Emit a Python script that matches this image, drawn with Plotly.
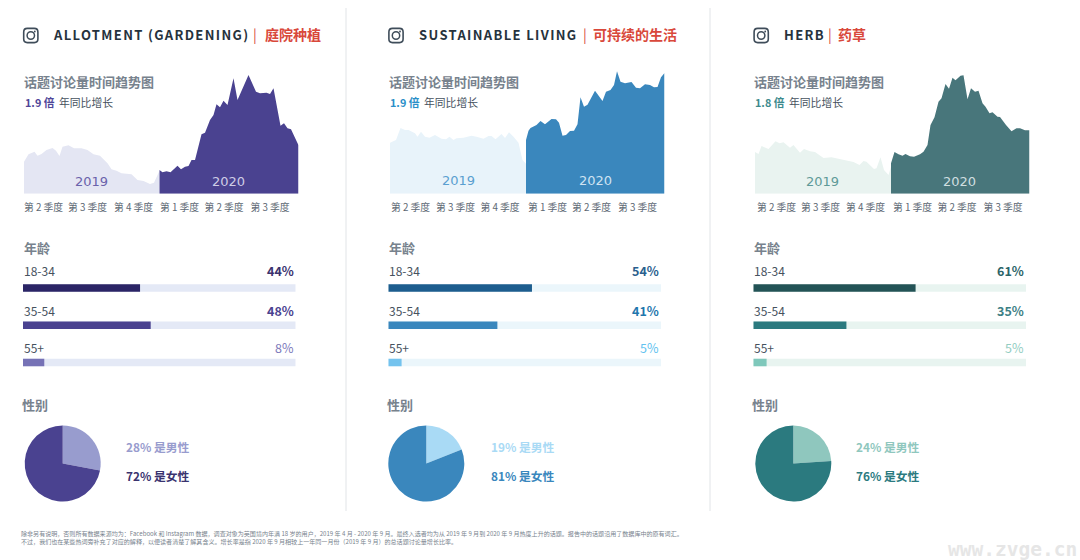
import plotly.graph_objects as go

# ---------- data ----------
topic_names = ["ALLOTMENT (GARDENING)", "SUSTAINABLE LIVING", "HERB"]
topic_names_cn = ["庭院种植", "可持续的生活", "药草"]
growth = ["1.9 倍", "1.9 倍", "1.8 倍"]
quarter_labels = ["第 2 季度", "第 3 季度", "第 4 季度", "第 1 季度", "第 2 季度", "第 3 季度"]
age_groups = ["18-34", "35-54", "55+"]
age_a = [44, 48, 8]
age_b = [54, 41, 5]
age_c = [61, 35, 5]
male_share = [28, 19, 24]
female_share = [72, 81, 76]

days_a19 = [0,9,21,27,35,45,57,64,71,77,89,100,115,127,139,152,167,175,185,195,215,227,239,252,260,271]
vals_a19 = [96,118,126,114,119,131,137,129,113,141,145,136,136,131,118,114,91,73,69,61,58,41,38,29,33,69]
days_a20 = [271,277,285,293,300,307,314,322,329,335,342,355,362,372,379,385,392,399,407,419,427,449,464,472,485,492,499,509,513,520,527,534,542,549]
vals_a20 = [71,64,67,64,74,84,73,81,83,101,101,178,183,221,236,268,259,279,266,346,281,356,306,301,303,299,316,231,204,211,196,193,166,145]

days_b19 = [0,12,21,30,37,50,55,62,70,79,90,103,112,119,127,133,147,163,173,187,197,203,211,223,230,238,247,257,265,272]
vals_b19 = [153,161,197,191,191,181,171,186,171,168,176,165,163,171,161,166,168,174,171,165,173,173,163,179,167,184,171,153,101,90]
days_b20 = [272,277,281,293,301,310,323,332,338,345,352,360,368,375,381,388,395,410,425,432,441,448,454,461,470,483,492,500,510,520,528,535,542,549]
vals_b20 = [161,189,197,206,218,208,224,223,213,174,176,188,189,208,289,261,267,309,278,306,311,326,367,336,331,335,318,316,328,326,319,320,349,362]

days_c19 = [0,7,13,27,41,49,57,70,77,90,98,110,120,137,153,170,183,197,209,217,223,238,243,251,258,267,272]
vals_c19 = [125,119,143,134,157,151,154,138,146,123,134,127,125,107,109,103,98,95,86,98,96,74,76,109,71,56,81]
days_c20 = [272,279,287,295,301,310,318,330,337,345,351,359,367,373,381,388,395,401,411,417,425,432,440,447,455,461,469,475,485,490,502,513,523,530,540,549]
vals_c20 = [91,125,118,114,119,112,111,118,126,146,206,229,276,286,329,315,348,340,354,355,283,316,306,309,271,261,241,244,231,230,206,187,196,196,190,190]

tick_days = [[39,127,219,311,400,492],[41,131,220,315,403,495],[43,131,221,315,404,496]]

footnote = ("除非另有说明，否则所有数据来源均为：Facebook 和 Instagram 数据，调查对象为英国境内年满 18 岁的用户，2019 年 4 月 - 2020 年 9 月。"
            "最终入选者均为从 2019 年 9 月到 2020 年 9 月热度上升的话题。报告中的话题沿用了数据库中的原有词汇。<br>"
            "不过，我们也在某些热词旁补充了对应的解释，以便读者清楚了解其含义。增长率是指 2020 年 9 月相较上一年同一月份（2019 年 9 月）的总话题讨论量增长比率。")

# ---------- style ----------
W, H = 1080, 560
CJK = "Noto Sans CJK SC"
INK = "#46525e"
GREY = "#77828d"
panels = [
    dict(area_x=24, bar_x=23, pie_x=62.7, icon_x=30.8, t_x=52, sep_x=252, cn_x=263.5,
         dark="#4a4290", light="#e4e6f3", bars=["#2b2566", "#4a4290", "#7672b6"], track="#e4e9f6",
         pct=["#3a336f", "#4a4290", "#7c78ba"], pie="#4a4290", pie_l="#989cce", grow="#4f4698",
         y19="#6a62ab", y20="#cfcde6", y19_h=37, y20_h=37, y19x=135, y20x=409,
         days19=days_a19, vals19=vals_a19, days20=days_a20, vals20=vals_a20, age=age_a),
    dict(area_x=390, bar_x=388.3, pie_x=426.3, icon_x=396, t_x=417.7, sep_x=581.5, cn_x=592.2,
         dark="#3a87bd", light="#e8f3fa", bars=["#1d5d8e", "#3a87bd", "#74c3ee"], track="#ebf6fb",
         pct=["#2a5f8e", "#1f77ad", "#62c2f0"], pie="#3a87bd", pie_l="#a9daf5", grow="#2b8fc8",
         y19="#5a9fd0", y20="#cfe3f2", y19_h=41, y20_h=41, y19x=136, y20x=410,
         days19=days_b19, vals19=vals_b19, days20=days_b20, vals20=vals_b20, age=age_b),
    dict(area_x=755, bar_x=753.3, pie_x=793.3, icon_x=761.2, t_x=782.7, sep_x=827, cn_x=837.5,
         dark="#48767b", light="#e9f3f0", bars=["#235356", "#2b7a7f", "#7fc8bb"], track="#e8f4f0",
         pct=["#2b6468", "#3d8085", "#93cdc2"], pie="#2b7a7f", pie_l="#8fc7be", grow="#3d8a8d",
         y19="#5f9a98", y20="#d0dfe0", y19_h=37, y20_h=37, y19x=135, y20x=409,
         days19=days_c19, vals19=vals_c19, days20=days_c20, vals20=vals_c20, age=age_c),
]

def X(p): return p / W
def Y(p): return 1 - p / H

fig = go.Figure()
ann, shapes = [], []

def text(x, y, s, size, color, anchor="left", weight=None, family=CJK, dy=-1.6):
    ann.append(dict(x=X(x), y=Y(y + dy), xref="paper", yref="paper", text=s, showarrow=False,
                    xanchor=anchor, yanchor="middle", align=anchor,
                    font=dict(family=family, size=size, color=color, weight=weight), borderpad=0))

def rounded_square(cx, cy, h, r):
    # outline worked out in pixels, then converted to paper fractions
    l, rt, t, b = cx - h, cx + h, cy - h, cy + h
    P = lambda px, py: f"{X(px)},{Y(py)}"
    return (f"M{P(l + r, t)} L{P(rt - r, t)} Q{P(rt, t)} {P(rt, t + r)} L{P(rt, b - r)} Q{P(rt, b)} {P(rt - r, b)} "
            f"L{P(l + r, b)} Q{P(l, b)} {P(l, b - r)} L{P(l, t + r)} Q{P(l, t)} {P(l + r, t)} Z")

layout_axes = {}
AREA_W, AREA_BASE, AREA_H = 274.5, 193.67, 125
BAR_W, BAR_TOP, BAR_BOT = 272.7, 269.5, 381

for i, p in enumerate(panels):
    n = i * 2 + 1
    suffix = "" if n == 1 else str(n)
    ax = f"x{suffix}", f"y{suffix}"
    for d, v, c in [(p["days19"], p["vals19"], p["light"]), (p["days20"], p["vals20"], p["dark"])]:
        fig.add_trace(go.Scatter(x=d, y=v, xaxis=ax[0], yaxis=ax[1], mode="lines", fill="tozeroy",
                                 fillcolor=c, line=dict(width=0, color=c), hoverinfo="skip"))
    layout_axes[f"xaxis{suffix}"] = dict(domain=[X(p["area_x"]), X(p["area_x"] + AREA_W)], range=[0, 549],
        anchor=ax[1], showgrid=False, zeroline=False, showline=False, tickmode="array",
        tickvals=tick_days[i], ticktext=quarter_labels, ticks="outside", ticklen=5, tickcolor="rgba(0,0,0,0)",
        tickfont=dict(family=CJK, size=9.8, color="#5d6873"))
    layout_axes[f"yaxis{suffix}"] = dict(domain=[Y(AREA_BASE), Y(AREA_BASE - AREA_H)], range=[0, 375],
        anchor=ax[0], visible=False)

    for yr, xx, hh, col in [("2019", p["y19x"], p["y19_h"], p["y19"]), ("2020", p["y20x"], p["y20_h"], p["y20"])]:
        ann.append(dict(x=xx, y=hh, xref=ax[0], yref=ax[1], text=yr, showarrow=False, xanchor="center",
                        yanchor="middle", font=dict(family="DejaVu Sans", size=13, color=col)))

    m = i * 2 + 2
    bx, by = f"x{m}", f"y{m}"
    fig.add_trace(go.Bar(x=[102.5] * 3, y=age_groups, orientation="h", xaxis=bx, yaxis=by,
                         marker=dict(color=p["track"], line_width=0), hoverinfo="skip"))
    fig.add_trace(go.Bar(x=p["age"], y=age_groups, orientation="h", xaxis=bx, yaxis=by,
                         marker=dict(color=p["bars"], line_width=0), hoverinfo="skip"))
    layout_axes[f"xaxis{m}"] = dict(domain=[X(p["bar_x"]), X(p["bar_x"] + BAR_W)], range=[0, 102.5],
                                    anchor=by, visible=False)
    layout_axes[f"yaxis{m}"] = dict(domain=[Y(BAR_BOT), Y(BAR_TOP)], anchor=bx, visible=False,
                                    categoryorder="array", categoryarray=age_groups, autorange="reversed")

    R = 38
    fig.add_trace(go.Pie(values=[male_share[i], female_share[i]], labels=["男性", "女性"],
                         sort=False, direction="clockwise", rotation=0, textinfo="none", hoverinfo="skip",
                         marker=dict(colors=[p["pie_l"], p["pie"]], line_width=0),
                         domain=dict(x=[X(p["pie_x"] - R), X(p["pie_x"] + R)], y=[Y(463.5 + R), Y(463.5 - R)]),
                         showlegend=False))

    ic, iy = p["icon_x"], 35.5
    shapes.append(dict(type="path", xref="paper", yref="paper", path=rounded_square(ic, iy, 7.1, 3.6),
                       line=dict(color="#3f4d5a", width=1.6)))
    shapes.append(dict(type="circle", xref="paper", yref="paper", x0=X(ic - 3.7), x1=X(ic + 3.7), y0=Y(iy - 3.7), y1=Y(iy + 3.7),
                       line=dict(color="#3f4d5a", width=1.5)))
    shapes.append(dict(type="circle", xref="paper", yref="paper", x0=X(ic + 3.1), x1=X(ic + 4.9), y0=Y(iy - 4.9), y1=Y(iy - 3.1),
                       fillcolor="#3f4d5a", line_width=0))
    text(p["t_x"], 35, topic_names[i], 13, "#26323d", weight="bold", dy=-0.6)
    text(p["sep_x"], 35, "|", 14, "#d9483b", dy=-0.6)
    text(p["cn_x"], 35, topic_names_cn[i], 14, "#d9483b", weight="bold", dy=-0.6)

    left = p["bar_x"]
    text(left, 83, "话题讨论量时间趋势图", 13, GREY, weight="bold")
    text(left + 1, 104, growth[i], 10.8, p["grow"], weight="bold")
    text(left + 34.5, 104, "年同比增长", 10.8, INK)
    text(left, 249, "年龄", 13, GREY, weight="bold")
    for lab, v, ty, pc in zip(age_groups, p["age"], [272, 312, 349], p["pct"]):
        text(left, ty, lab, 12, INK)
        text(left + 271.5, ty, f"{v}%", 12.5, pc, anchor="right",
             weight="bold" if v >= 10 else None)
    text(left - 2, 406, "性别", 13, GREY, weight="bold")
    text(left + 101.5, 448, f"{male_share[i]}% 是男性", 11.8, p["pie_l"], weight="bold")
    text(left + 101.5, 477, f"{female_share[i]}% 是女性", 11.8, p["pct"][0] if i == 0 else p["pie"], weight="bold")

for xd in [346, 710]:
    shapes.append(dict(type="line", xref="paper", yref="paper", x0=X(xd), x1=X(xd), y0=Y(8), y1=Y(511),
                       line=dict(color="#e1e4e7", width=1)))

ann.append(dict(x=X(18.5), y=Y(537), xref="paper", yref="paper", text=footnote, showarrow=False, xanchor="left",
                yanchor="middle", align="left", font=dict(family=CJK, size=6.05, color="#77828d")))
text(946.5, 549, "www.zvge.cn", 19.5, "#e6e6e6", weight="bold", family="DejaVu Sans Mono", dy=0)

fig.update_layout(width=W, height=H, margin=dict(l=0, r=0, t=0, b=0, pad=0), paper_bgcolor="white",
                  plot_bgcolor="white", showlegend=False, barmode="overlay", bargap=0.8,
                  annotations=ann, shapes=shapes, **layout_axes)

post = """
document.body.style.margin='0';
document.querySelectorAll('.annotation-text').forEach(function(t){
  var s=t.textContent;
  if(s==='ALLOTMENT (GARDENING)'||s==='SUSTAINABLE LIVING'||s==='HERB'){t.style.letterSpacing='1.35px';}
});
"""
fig.write_html("out.html", post_script=post, config=dict(displayModeBar=False))
